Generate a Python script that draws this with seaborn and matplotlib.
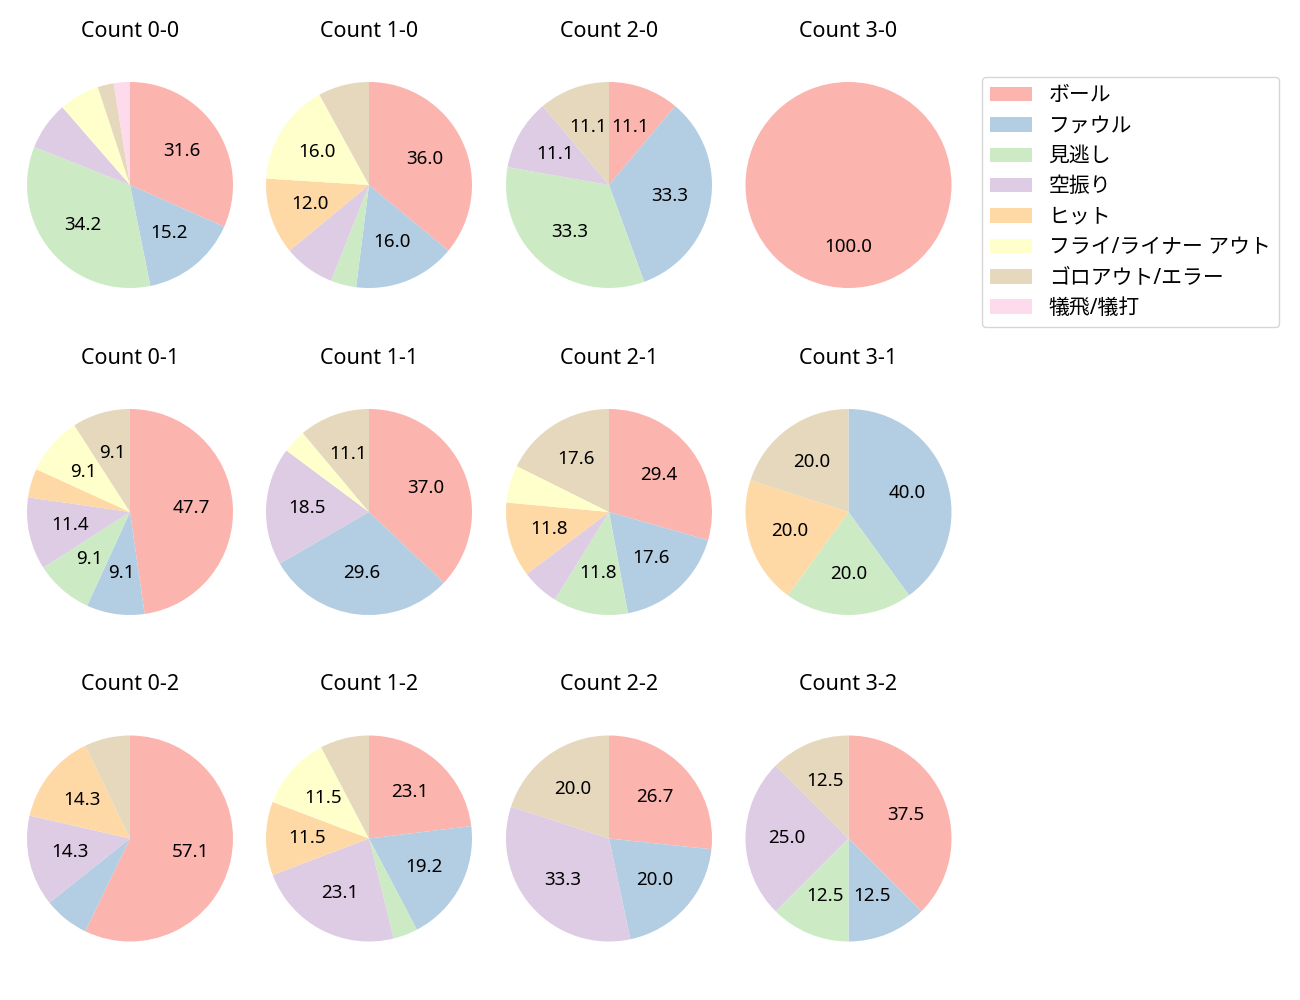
import matplotlib
matplotlib.use("Agg")
import matplotlib.pyplot as plt
import seaborn as sns
import numpy as np

sns.set_style("white")
plt.rcParams['font.family'] = ['Noto Sans', 'Noto Sans CJK JP', 'DejaVu Sans']
plt.rcParams['text.color'] = 'black'

categories = ["ボール", "ファウル", "見逃し", "空振り", "ヒット",
              "フライ/ライナー アウト", "ゴロアウト/エラー", "犠飛/犠打"]

titles = ["Count 0-0", "Count 1-0", "Count 2-0", "Count 3-0",
          "Count 0-1", "Count 1-1", "Count 2-1", "Count 3-1",
          "Count 0-2", "Count 1-2", "Count 2-2", "Count 3-2"]

count_0_0 = [25, 12, 27, 6, 0, 5, 2, 2]
count_1_0 = [9, 4, 1, 2, 3, 4, 2, 0]
count_2_0 = [1, 3, 3, 1, 0, 0, 1, 0]
count_3_0 = [1, 0, 0, 0, 0, 0, 0, 0]
count_0_1 = [21, 4, 4, 5, 2, 4, 4, 0]
count_1_1 = [10, 8, 0, 5, 0, 1, 3, 0]
count_2_1 = [5, 3, 2, 1, 2, 1, 3, 0]
count_3_1 = [0, 2, 1, 0, 1, 0, 1, 0]
count_0_2 = [8, 1, 0, 2, 2, 0, 1, 0]
count_1_2 = [6, 5, 1, 6, 3, 3, 2, 0]
count_2_2 = [4, 3, 0, 5, 0, 0, 3, 0]
count_3_2 = [3, 1, 1, 2, 0, 0, 1, 0]

series = [count_0_0, count_1_0, count_2_0, count_3_0,
          count_0_1, count_1_1, count_2_1, count_3_1,
          count_0_2, count_1_2, count_2_2, count_3_2]

colors = sns.color_palette("Pastel1", 8)

W, H = 1300, 1000
fig = plt.figure(figsize=(13, 10), dpi=100)

col_x = [130, 369, 609, 848.5]
row_y = [185, 512, 838.5]
R = 103.0
side = 2.5 * R

handles = None
for i, (title, vals) in enumerate(zip(titles, series)):
    r, c = divmod(i, 4)
    cx, cy = col_x[c], row_y[r]
    ax = fig.add_axes([(cx - side / 2) / W, 1 - (cy + side / 2) / H, side / W, side / H])
    vals = np.array(vals, dtype=float)
    wedges, texts, autotexts = ax.pie(
        vals, colors=colors, startangle=90, counterclock=False,
        autopct=lambda p: f"{p:.1f}" if p >= 9 else "",
        pctdistance=0.6, textprops={"fontsize": 13.5, "color": "black"},
        wedgeprops={"linewidth": 0})
    ax.set_xlim(-1.25, 1.25)
    ax.set_ylim(-1.25, 1.25)
    ax.set_aspect("equal")
    ax.set_title(title, fontsize=15.5, pad=14, color="black")
    if i == 0:
        handles = wedges

fig.legend(handles, categories, loc="upper left",
           bbox_to_anchor=(982 / W, 1 - 77 / H), fontsize=15,
           frameon=True, borderaxespad=0, labelspacing=0.45)

fig.savefig("out.png", dpi=100)
